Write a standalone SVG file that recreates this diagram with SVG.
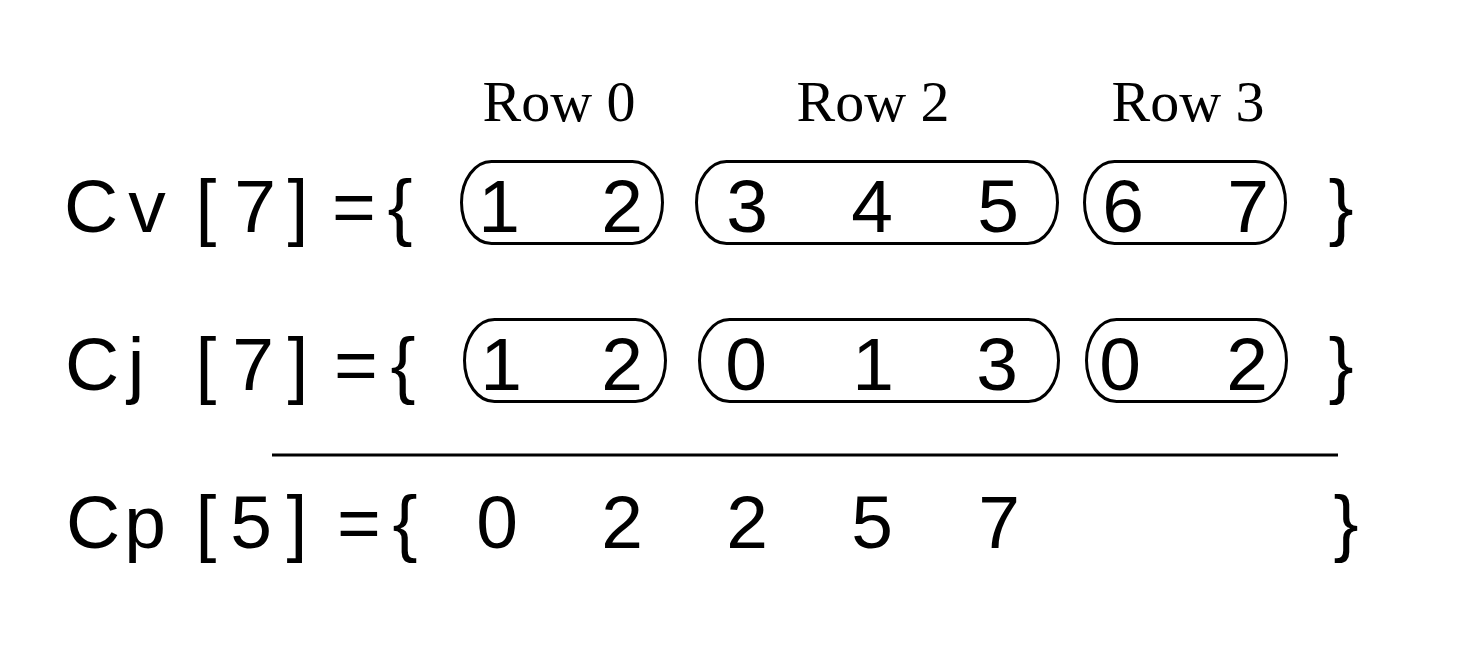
<svg xmlns="http://www.w3.org/2000/svg" width="1467" height="669" viewBox="0 0 1467 669">
<style>
.t{font-family:"Liberation Sans",Arial,sans-serif;font-size:75px;text-anchor:middle;fill:#000}
.lbl{font-family:"Liberation Serif","Times New Roman",serif;font-size:58px;text-anchor:middle;fill:#000}
.box{fill:none;stroke:#000;stroke-width:3}
</style>
<rect width="1467" height="669" fill="#fff"/>
<g id="labels">
<text class="lbl" x="559" y="121">Row 0</text>
<text class="lbl" x="873" y="121">Row 2</text>
<text class="lbl" x="1188" y="121">Row 3</text>
</g>
<g id="cv">
<text class="t" x="91" y="232">C</text>
<text class="t" x="147" y="232">v</text>
<text class="t" x="206" y="232">[</text>
<text class="t" x="255" y="232">7</text>
<text class="t" x="298" y="232">]</text>
<text class="t" x="354" y="232">=</text>
<text class="t" x="400" y="232">{</text>
<g id="cv-row0">
<rect class="box" x="461.5" y="161.5" width="201" height="82" rx="30" ry="41"/>
<text class="t" x="499" y="232">1</text>
<text class="t" x="622" y="232">2</text>
</g>
<g id="cv-row2">
<rect class="box" x="696.5" y="161.5" width="361" height="82" rx="30" ry="41"/>
<text class="t" x="747" y="232">3</text>
<text class="t" x="872" y="232">4</text>
<text class="t" x="998" y="232">5</text>
</g>
<g id="cv-row3">
<rect class="box" x="1084.5" y="161.5" width="201" height="82" rx="30" ry="41"/>
<text class="t" x="1123" y="232">6</text>
<text class="t" x="1248" y="232">7</text>
</g>
<text class="t" x="1341" y="232">}</text>
</g>
<g id="cj">
<text class="t" x="92" y="390">C</text>
<text class="t" x="136" y="390">j</text>
<text class="t" x="206" y="390">[</text>
<text class="t" x="253" y="390">7</text>
<text class="t" x="298" y="390">]</text>
<text class="t" x="356" y="390">=</text>
<text class="t" x="403" y="390">{</text>
<g id="cj-row0">
<rect class="box" x="464.5" y="319.5" width="201" height="82" rx="30" ry="41"/>
<text class="t" x="501" y="390">1</text>
<text class="t" x="622" y="390">2</text>
</g>
<g id="cj-row2">
<rect class="box" x="699.5" y="319.5" width="359" height="82" rx="30" ry="41"/>
<text class="t" x="746" y="390">0</text>
<text class="t" x="873" y="390">1</text>
<text class="t" x="997" y="390">3</text>
</g>
<g id="cj-row3">
<rect class="box" x="1086.5" y="319.5" width="200" height="82" rx="30" ry="41"/>
<text class="t" x="1120" y="390">0</text>
<text class="t" x="1247" y="390">2</text>
</g>
<text class="t" x="1341" y="390">}</text>
</g>
<g id="connectors">
<line x1="272" y1="455" x2="1338" y2="455" stroke="#000" stroke-width="3"/>
</g>
<g id="cp">
<text class="t" x="93" y="548">C</text>
<text class="t" x="145" y="548">p</text>
<text class="t" x="206" y="548">[</text>
<text class="t" x="251" y="548">5</text>
<text class="t" x="297" y="548">]</text>
<text class="t" x="359" y="548">=</text>
<text class="t" x="405" y="548">{</text>
<text class="t" x="497" y="548">0</text>
<text class="t" x="622" y="548">2</text>
<text class="t" x="747" y="548">2</text>
<text class="t" x="872" y="548">5</text>
<text class="t" x="999" y="548">7</text>
<text class="t" x="1346" y="548">}</text>
</g>
</svg>
